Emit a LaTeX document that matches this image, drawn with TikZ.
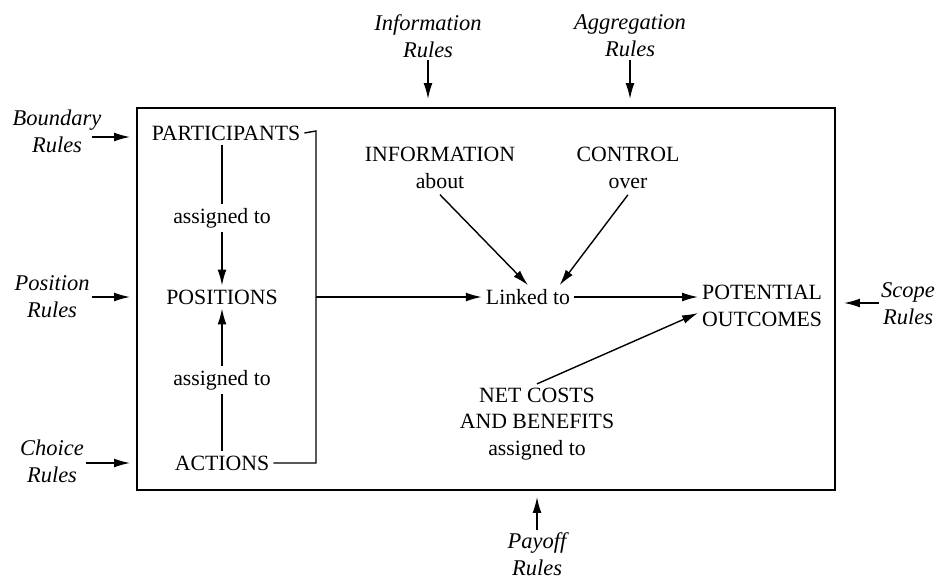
\documentclass[tikz,border=0pt]{standalone}
\usepackage{fontspec}
\setmainfont{Liberation Serif}
\usetikzlibrary{arrows.meta}

\begin{document}
\begin{tikzpicture}[x=0.02cm,y=-0.02cm,font=\fontsize{12.4}{15}\selectfont,
  line width=0.8pt,
  rule/.style={font=\fontsize{12.8}{15.5}\selectfont\itshape,align=center,inner sep=1pt},
  term/.style={align=center,inner sep=2pt},
  arr/.style={-{Latex[length=9pt,width=5pt]}}]

\useasboundingbox (0,0) rectangle (945,582);

% the action situation
\draw[line width=1.1pt] (137,108) rectangle (835,490);

\node[term] (part) at (226,133) {PARTICIPANTS};
\node[term] (asgA) at (222,218) {assigned to};
\node[term] (pos)  at (222,297) {POSITIONS};
\node[term] (asgB) at (222,380) {assigned to};
\node[term] (act)  at (222,463) {ACTIONS};

\node[term] (info) at (440,168) {INFORMATION\\about};
\node[term] (ctrl) at (628,168) {CONTROL\\over};
\node[term] (link) at (528,297) {Linked to};
\node[term,anchor=west] (outc) at (698,306) {POTENTIAL\\OUTCOMES};
\node[term] (cost) at (537,424) {NET COSTS\\AND BENEFITS\\assigned to};

\coordinate (brtop) at (316,131);
\coordinate (brmid) at (316,297);
\coordinate (brbot) at (316,463);

\draw (part.east) -- (brtop) -- (brbot) -- (act.east);
\draw (part.south -| asgA) -- (asgA);
\draw[arr] (asgA) -- (pos);
\draw (act) -- (asgB);
\draw[arr] (asgB) -- (pos);
\draw[arr] (brmid) -- (link);
\draw[arr] (info.south) ++(0,2) -- (link.north);
\draw[arr] (ctrl.south) ++(0,2) -- ([xshift=18]link.north);
\draw[arr] (link) -- (outc.west |- link);
\draw[arr] (cost.north) -- ([yshift=-4]outc.west);

% rules acting on the situation
\node[rule] (bnd) at (57,131) {Boundary\\Rules};
\node[rule] (psr) at (52,297) {Position\\Rules};
\node[rule] (chr) at (52,461) {Choice\\Rules};
\node[rule] (inr) at (428,36) {Information\\Rules};
\node[rule] (agr) at (630,36) {Aggregation\\Rules};
\node[rule] (scr) at (908,304) {Scope\\Rules};
\node[rule] (pyr) at (537,554) {Payoff\\Rules};

\coordinate (bndE) at (130,137);
\coordinate (psrE) at (130,297);
\coordinate (chrE) at (130,463);
\coordinate (inrE) at (428,99);
\coordinate (agrE) at (630,99);
\coordinate (scrE) at (844,303);
\coordinate (pyrE) at (537,497);

\draw[arr] (92,137) -- (bndE);
\draw[arr] (psr.east |- psrE) -- (psrE);
\draw[arr] (chr.east |- chrE) -- (chrE);
\draw[arr] (inr.south) -- (inrE);
\draw[arr] (agr.south) -- (agrE);
\draw[arr] (scr.west |- scrE) -- (scrE);
\draw[arr] (pyr.north) -- (pyrE);

\end{tikzpicture}
\end{document}
